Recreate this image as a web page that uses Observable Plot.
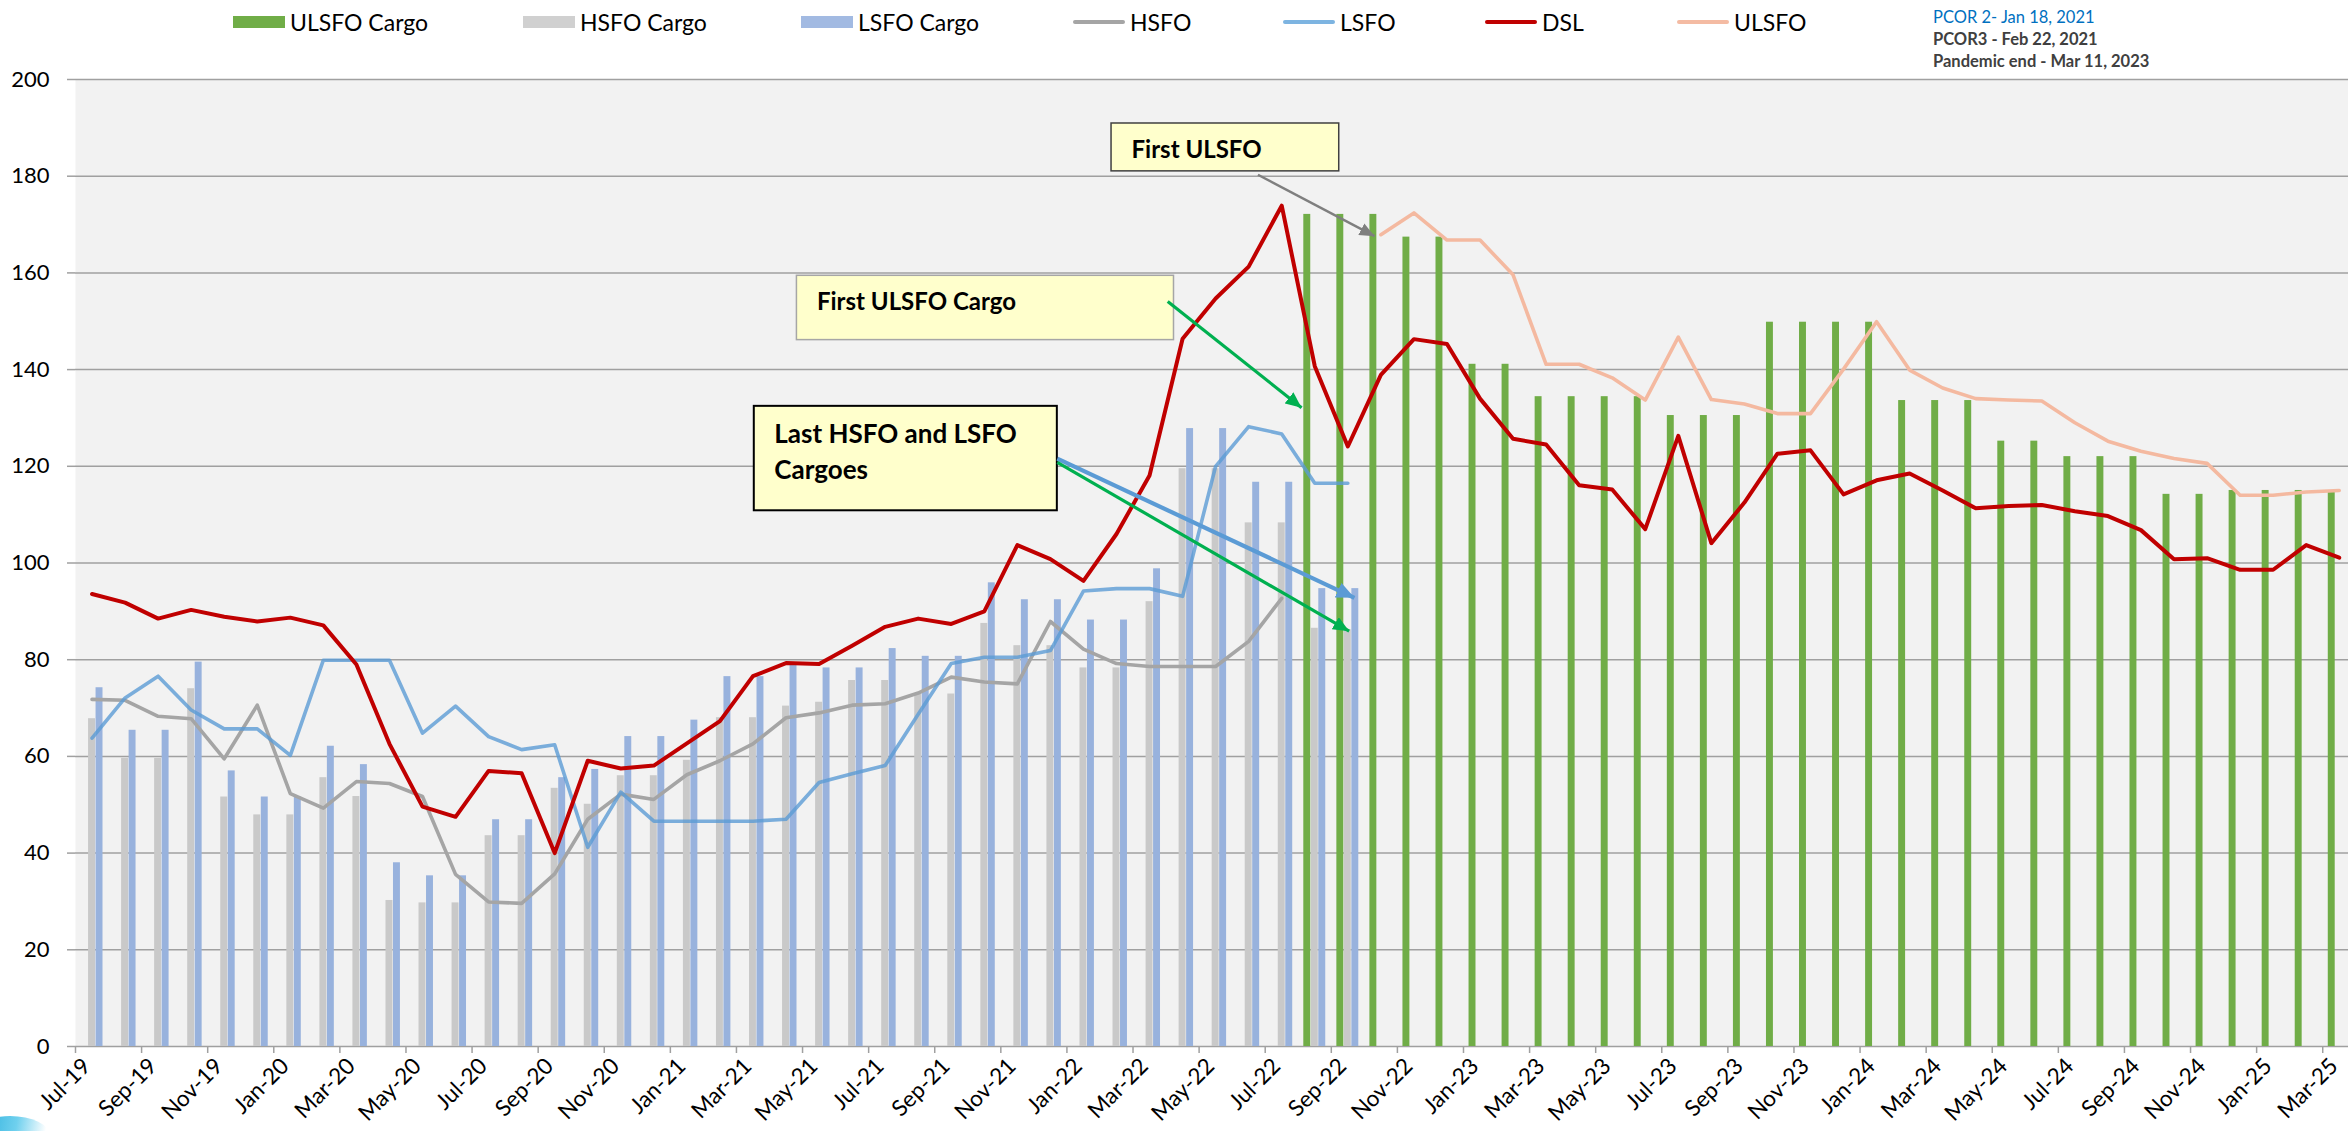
<!DOCTYPE html>
<html>
<head>
<meta charset="utf-8">
<script src="https://cdn.jsdelivr.net/npm/d3@7"></script>
<script src="https://cdn.jsdelivr.net/npm/@observablehq/plot@0.6"></script>
<style>
  html, body { margin: 0; padding: 0; background: #ffffff; overflow: hidden; }
  #wrap { position: relative; width: 2348px; height: 1131px; font-family: Lato, "Open Sans", sans-serif; overflow: hidden; }
  #chart { position: absolute; left: 0; top: 0; }
  .leg { position: absolute; top: 6px; height: 32px; display: flex; align-items: center; font-size: 23px; color: #000; white-space: nowrap; }
  .leg .sw { display: inline-block; margin-right: 5px; }
  .note { position: absolute; left: 1933px; font-size: 16.5px; white-space: nowrap; line-height: 20px; }
  #swoosh { position: absolute; left: -30px; top: 1116px; width: 80px; height: 40px; border-radius: 50%;
            background: linear-gradient(100deg, #1aa6d8 0%, #6fd0ee 55%, rgba(255,255,255,0) 90%); }
</style>
</head>
<body>
<div id="wrap">
  <div id="chart"></div>
  <div id="legend"></div>
  <div id="notes"></div>
  <div id="swoosh"></div>
</div>
<script>
// ---------------- data ----------------
const months = [
  "Jul-19","Aug-19","Sep-19","Oct-19","Nov-19","Dec-19",
  "Jan-20","Feb-20","Mar-20","Apr-20","May-20","Jun-20","Jul-20","Aug-20","Sep-20","Oct-20","Nov-20","Dec-20",
  "Jan-21","Feb-21","Mar-21","Apr-21","May-21","Jun-21","Jul-21","Aug-21","Sep-21","Oct-21","Nov-21","Dec-21",
  "Jan-22","Feb-22","Mar-22","Apr-22","May-22","Jun-22","Jul-22","Aug-22","Sep-22","Oct-22","Nov-22","Dec-22",
  "Jan-23","Feb-23","Mar-23","Apr-23","May-23","Jun-23","Jul-23","Aug-23","Sep-23","Oct-23","Nov-23","Dec-23",
  "Jan-24","Feb-24","Mar-24","Apr-24","May-24","Jun-24","Jul-24","Aug-24","Sep-24","Oct-24","Nov-24","Dec-24",
  "Jan-25","Feb-25","Mar-25"
];

// HSFO Cargo (Jul-19 .. Sep-22)
const hsfoCargo = [
  67.8, 59.6, 59.6, 74.0, 51.6, 47.9, 47.9, 55.6, 51.7, 30.2,
  29.7, 29.7, 43.6, 43.6, 53.4, 50.1, 56.0, 56.0, 59.2, 68.0,
  68.0, 70.4, 71.2, 75.7, 75.7, 73.0, 72.9, 87.5, 82.9, 82.9,
  78.3, 78.3, 92.0, 119.5, 119.5, 108.3, 108.3, 86.5, 86.2
];
// LSFO Cargo (Jul-19 .. Sep-22)
const lsfoCargo = [
  74.2, 65.4, 65.4, 79.5, 57.0, 51.6, 51.6, 62.1, 58.3, 38.0,
  35.3, 35.3, 46.9, 46.9, 55.6, 57.3, 64.1, 64.1, 67.5, 76.5,
  76.5, 79.0, 78.3, 78.3, 82.3, 80.7, 80.7, 95.9, 92.4, 92.4,
  88.2, 88.2, 98.8, 127.8, 127.8, 116.7, 116.7, 94.7, 94.7
];
// ULSFO Cargo (Aug-22 .. Mar-25)
const ulsfoCargoStart = "Aug-22";
const ulsfoCargo = [
  172.1, 172.1, 172.1, 167.4, 167.4, 141.1, 141.1, 134.4, 134.4, 134.4,
  134.4, 130.5, 130.5, 130.5, 149.8, 149.8, 149.8, 149.8, 133.6, 133.6,
  133.6, 125.2, 125.2, 122.0, 122.0, 122.0, 114.2, 114.2, 115.0, 115.0,
  115.0, 114.6
];
// HSFO line (Jul-19 .. Jul-22)
const hsfo = [
  71.8, 71.6, 68.3, 67.8, 59.5, 70.6, 52.3, 49.3, 54.8, 54.4,
  51.7, 35.6, 29.9, 29.6, 35.7, 47.0, 52.2, 51.1, 56.2, 59.1,
  62.6, 68.0, 69.0, 70.6, 70.9, 73.1, 76.4, 75.4, 75.0, 87.9,
  82.2, 79.2, 78.6, 78.6, 78.6, 83.8, 92.7
];
// LSFO line (Jul-19 .. Sep-22)
const lsfo = [
  63.8, 72.1, 76.6, 69.6, 65.7, 65.7, 60.2, 79.9, 79.9, 79.9,
  64.8, 70.4, 64.1, 61.4, 62.4, 41.2, 52.6, 46.6, 46.6, 46.6,
  46.6, 47.0, 54.6, 56.4, 58.1, 68.7, 79.2, 80.5, 80.5, 81.9,
  94.2, 94.7, 94.7, 93.1, 120.0, 128.2, 126.7, 116.5, 116.5
];
// DSL line (Jul-19 .. Mar-25)
const dsl = [
  93.6, 91.8, 88.5, 90.3, 88.9, 87.9, 88.7, 87.1, 79.0, 62.6,
  49.6, 47.5, 57.0, 56.5, 40.0, 59.1, 57.5, 58.1, 62.7, 67.3,
  76.6, 79.3, 79.1, 82.9, 86.8, 88.5, 87.4, 90.0, 103.7, 100.8,
  96.3, 106.0, 118.1, 146.4, 154.7, 161.3, 173.9, 140.7, 124.1, 138.9,
  146.3, 145.3, 134.0, 125.7, 124.5, 116.1, 115.2, 107.0, 126.3, 104.1,
  112.5, 122.6, 123.3, 114.2, 117.1, 118.5, 115.0, 111.3, 111.8, 112.0,
  110.7, 109.7, 106.8, 100.8, 101.0, 98.6, 98.6, 103.7, 101.1
];
// ULSFO line (Oct-22 .. Mar-25)
const ulsfoStart = "Oct-22";
const ulsfo = [
  167.9, 172.4, 166.8, 166.8, 159.6, 141.1, 141.1, 138.3, 133.7, 146.7,
  133.8, 132.9, 130.9, 130.9, 140.1, 149.9, 139.9, 136.2, 134.0, 133.7,
  133.5, 129.0, 125.2, 123.1, 121.6, 120.6, 114.0, 114.0, 114.7, 115.0
];

const yTicks = [0, 20, 40, 60, 80, 100, 120, 140, 160, 180, 200];

const legendItems = [
  {label: "ULSFO Cargo", color: "#70AD47", kind: "bar"},
  {label: "HSFO Cargo",  color: "#D0D0D0", kind: "bar"},
  {label: "LSFO Cargo",  color: "#A2BAE2", kind: "bar"},
  {label: "HSFO",        color: "#A5A5A5", kind: "line"},
  {label: "LSFO",        color: "#7DB4E1", kind: "line"},
  {label: "DSL",         color: "#C00000", kind: "line"},
  {label: "ULSFO",       color: "#F4BBA3", kind: "line"}
];
const notes = [
  {text: "PCOR 2- Jan 18, 2021",        color: "#0070C0", weight: 400},
  {text: "PCOR3 - Feb 22, 2021",        color: "#404040", weight: 700},
  {text: "Pandemic end - Mar 11, 2023", color: "#404040", weight: 700}
];

// annotation boxes & arrows (anchored in data units: month index, value)
const annBoxes = [
  {x1: 30.85, x2: 37.74, y1: 181.0, y2: 190.9, border: "#404040", bw: 1.5, fs: 24, text: "First ULSFO"},
  {x1: 21.33, x2: 32.74, y1: 146.1, y2: 159.4, border: "#A6A6A6", bw: 1.5, fs: 24, text: "First ULSFO Cargo"},
  {x1: 20.04, x2: 29.21, y1: 110.8, y2: 132.4, border: "#000000", bw: 2,   fs: 26, text: "Last HSFO and LSFO\nCargoes"}
];
const annArrows = [
  {x1: 35.28, y1: 180.3, x2: 38.81, y2: 167.6, color: "#7F7F7F", w: 2.4, hl: 15, hw: 13},
  {x1: 32.55, y1: 154.1, x2: 36.60, y2: 132.1, color: "#00B050", w: 3.2, hl: 16, hw: 14},
  {x1: 29.21, y1: 121.6, x2: 38.20, y2: 92.8,  color: "#5B9BD5", w: 4.2, hl: 18, hw: 16},
  {x1: 29.21, y1: 120.8, x2: 38.04, y2: 85.9,  color: "#00B050", w: 3.2, hl: 16, hw: 14}
];

// ---------------- table ----------------
const iUC = months.indexOf(ulsfoCargoStart);
const iU = months.indexOf(ulsfoStart);
const rows = months.map((m, i) => ({
  i, m,
  hsfoCargo: i < hsfoCargo.length ? hsfoCargo[i] : null,
  lsfoCargo: i < lsfoCargo.length ? lsfoCargo[i] : null,
  ulsfoCargo: i >= iUC ? ulsfoCargo[i - iUC] : null,
  hsfo: i < hsfo.length ? hsfo[i] : null,
  lsfo: i < lsfo.length ? lsfo[i] : null,
  dsl: dsl[i],
  ulsfo: i >= iU ? ulsfo[i - iU] : null
}));

const off = 0.227, bw = 0.21;
function bars(key, shift, color) {
  return Plot.rect(rows.filter(d => d[key] != null), {
    x1: d => d.i + shift - bw / 2, x2: d => d.i + shift + bw / 2,
    y1: 0, y2: key, fill: color
  });
}
function line(key, color, width, opacity = 1) {
  return Plot.line(rows.filter(d => d[key] != null), {
    x: "i", y: key, stroke: color, strokeWidth: width, strokeOpacity: opacity,
    strokeLinejoin: "round", strokeLinecap: "round"
  });
}
const labelRows = rows.filter(d => d.i % 2 === 0);
const boundaries = labelRows.map(d => d.i - 0.5);

const chart = Plot.plot({
  width: 2348, height: 1131,
  marginLeft: 75, marginRight: 0, marginTop: 79, marginBottom: 85,
  x: {domain: [-0.5, 68.28], axis: null},
  y: {domain: [0, 200], axis: null},
  style: {fontFamily: "Lato, 'Open Sans', sans-serif", fontSize: "22px", color: "#000", background: "#ffffff"},
  marks: [
    Plot.frame({fill: "#F2F2F2", stroke: null}),
    Plot.ruleY(yTicks, {stroke: "#A0A0A0", strokeWidth: 1.5}),
    Plot.axisY({ticks: yTicks, tickSize: 8, tickPadding: 18, stroke: "#A0A0A0", strokeWidth: 1.5, fill: "#000", fontSize: 22, tickFormat: d => String(d)}),
    Plot.axisX({ticks: boundaries, tickSize: 7, stroke: "#A0A0A0", strokeWidth: 1.5, tickFormat: () => ""}),
    Plot.text(labelRows, {x: "i", text: "m", frameAnchor: "bottom", rotate: -45, textAnchor: "end", dy: 21, dx: 0, fontSize: 22.5, fill: "#000"}),
    bars("hsfoCargo", 0, "#C9C9C9"),
    bars("lsfoCargo", off, "#98B2DD"),
    bars("ulsfoCargo", -off, "#70AD47"),
    line("hsfo", "#A5A5A5", 3.6),
    line("lsfo", "#5B9BD5", 3.6, 0.8),
    line("dsl", "#C00000", 4),
    line("ulsfo", "#F4B9A0", 3.6),
    Plot.rect(annBoxes, {x1: "x1", x2: "x2", y1: "y1", y2: "y2", fill: "#FFFFCC", stroke: "border", strokeWidth: "bw"}),
    Plot.text(annBoxes, {x: "x1", y: "y2", text: "text", dx: 20, dy: 11, lineAnchor: "top", textAnchor: "start",
      fontWeight: "bold", fontSize: "fs", lineHeight: 1.38, fill: "#000"}),
    ...annArrows.map(a => Plot.link([a], {x1: "x1", y1: "y1", x2: "x2", y2: "y2", stroke: a.color, strokeWidth: a.w}))
  ]
});

// filled arrowheads for the annotation links
(function addHeads() {
  const ns = "http://www.w3.org/2000/svg";
  const defs = document.createElementNS(ns, "defs");
  annArrows.forEach((a, k) => {
    const m = document.createElementNS(ns, "marker");
    m.setAttribute("id", "ah" + k);
    m.setAttribute("markerUnits", "userSpaceOnUse");
    m.setAttribute("markerWidth", a.hl);
    m.setAttribute("markerHeight", a.hw);
    m.setAttribute("viewBox", `0 0 ${a.hl} ${a.hw}`);
    m.setAttribute("refX", a.hl);
    m.setAttribute("refY", a.hw / 2);
    m.setAttribute("orient", "auto");
    const p = document.createElementNS(ns, "path");
    p.setAttribute("d", `M0,0L${a.hl},${a.hw / 2}L0,${a.hw}Z`);
    p.setAttribute("fill", a.color);
    m.appendChild(p);
    defs.appendChild(m);
  });
  chart.insertBefore(defs, chart.firstChild);
  const groups = chart.querySelectorAll('g[aria-label="link"]');
  groups.forEach((g, k) => {
    g.querySelectorAll("path").forEach(p => p.setAttribute("marker-end", `url(#ah${k})`));
  });
})();

document.getElementById("chart").appendChild(chart);

// ---------------- legend ----------------
const legendLeft = [233, 523, 801, 1073, 1283, 1485, 1677];
const legend = document.getElementById("legend");
legendItems.forEach((it, k) => {
  const el = document.createElement("div");
  el.className = "leg";
  el.style.left = legendLeft[k] + "px";
  const sw = document.createElement("span");
  sw.className = "sw";
  sw.style.width = "52px";
  sw.style.height = it.kind === "bar" ? "12px" : "4px";
  sw.style.borderRadius = it.kind === "bar" ? "0" : "2px";
  sw.style.background = it.color;
  el.appendChild(sw);
  el.appendChild(document.createTextNode(it.label));
  legend.appendChild(el);
});

// ---------------- notes ----------------
const noteTop = [7, 29, 51];
const notesEl = document.getElementById("notes");
notes.forEach((n, k) => {
  const el = document.createElement("div");
  el.className = "note";
  el.style.top = noteTop[k] + "px";
  el.style.color = n.color;
  el.style.fontWeight = n.weight;
  el.textContent = n.text;
  notesEl.appendChild(el);
});
</script>
</body>
</html>
